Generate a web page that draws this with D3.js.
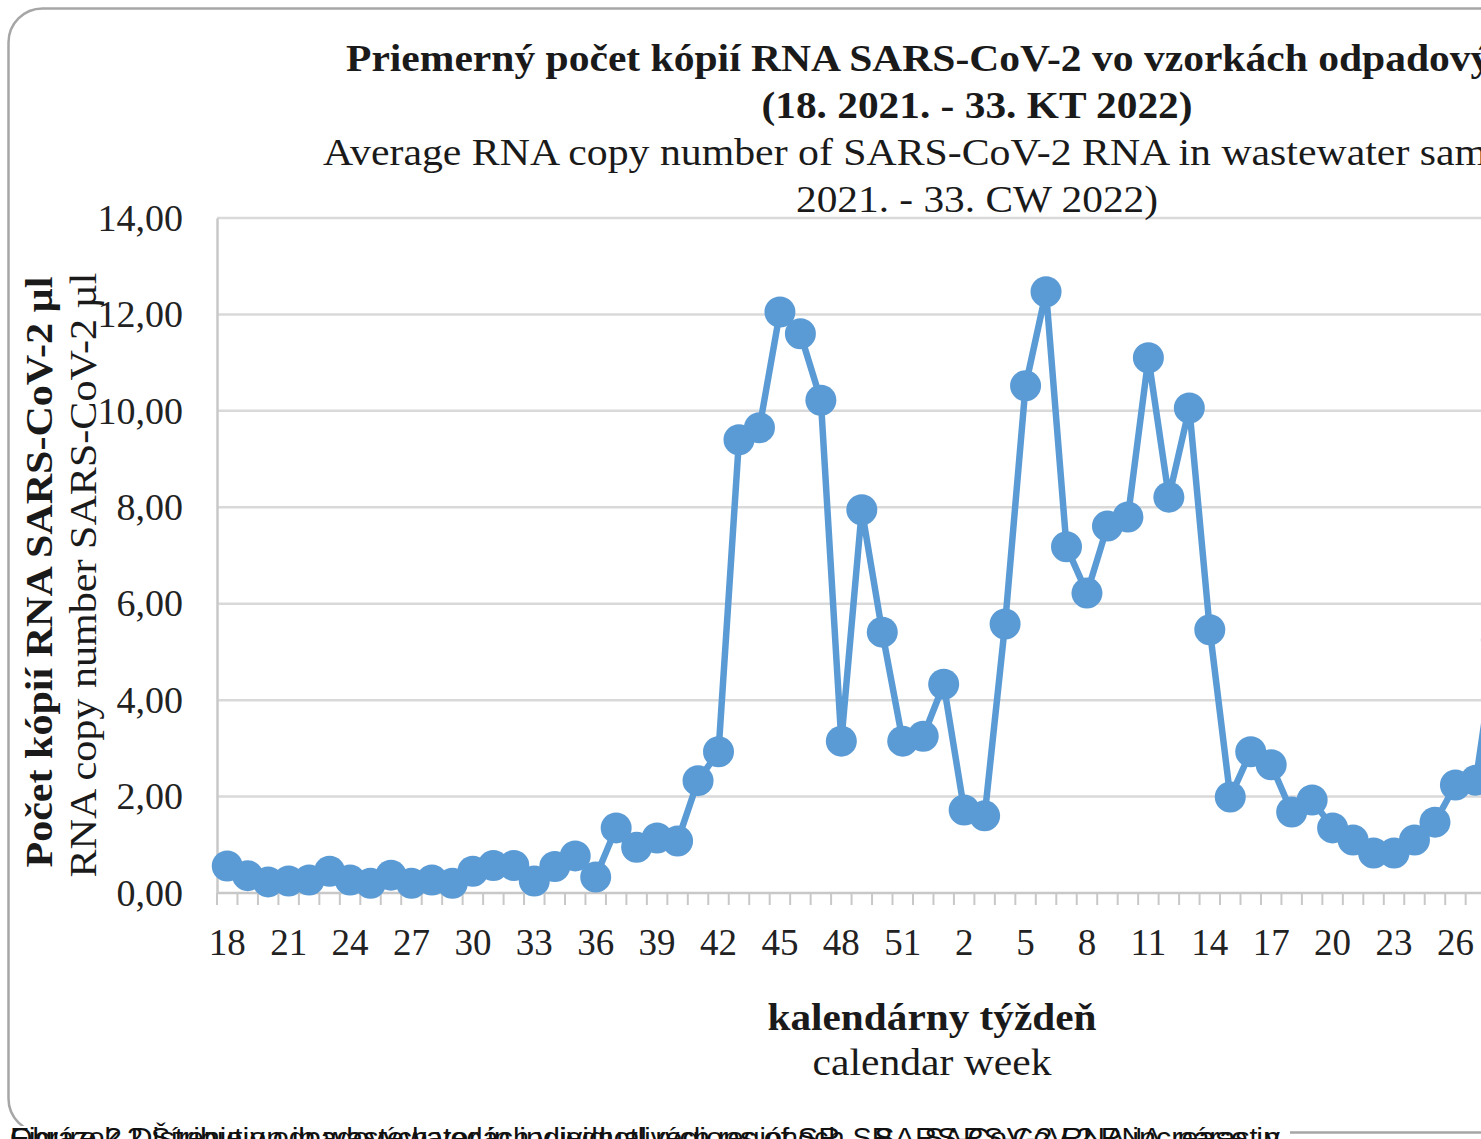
<!DOCTYPE html>
<html>
<head>
<meta charset="utf-8">
<script src="https://cdn.jsdelivr.net/npm/d3@7/dist/d3.min.js"></script>
<style>
  html, body { margin: 0; padding: 0; background: #fff; overflow: hidden; }
  svg { display: block; }
</style>
</head>
<body>
<svg id="chart" width="1481" height="1139"></svg>
<script>
// ---- data ----
const weeks2021 = [18,19,20,21,22,23,24,25,26,27,28,29,30,31,32,33,34,35,36,37,38,39,40,41,42,43,44,45,46,47,48,49,50,51,52];
const weeks2022 = [1,2,3,4,5,6,7,8,9,10,11,12,13,14,15,16,17,18,19,20,21,22,23,24,25,26,27,28,29,30,31,32,33];
const values2021 = [0.56,0.36,0.23,0.25,0.27,0.45,0.27,0.20,0.37,0.20,0.27,0.20,0.45,0.57,0.57,0.25,0.55,0.77,0.33,1.35,0.95,1.14,1.08,2.33,2.93,9.40,9.65,12.05,11.60,10.22,3.15,7.95,5.41,3.15,3.25];
const values2022 = [4.33,1.72,1.60,5.58,10.52,12.47,7.18,6.22,7.61,7.80,11.10,8.21,10.06,5.46,1.99,2.93,2.66,1.68,1.93,1.35,1.10,0.83,0.83,1.10,1.47,2.24,2.34,5.25];
const yTicks = [0,2,4,6,8,10,12,14];

const titleLines = [
  "Priemerný počet kópií RNA SARS-CoV-2 vo vzorkách odpadových vôd",
  "(18. 2021. - 33. KT 2022)",
  "Average RNA copy number of SARS-CoV-2 RNA in wastewater samples (18.",
  "2021. - 33. CW 2022)"
];
const yTitle1 = "Počet kópií RNA SARS-CoV-2 µl";
const yTitle2 = "RNA copy number SARS-CoV-2 µl";
const xTitle1 = "kalendárny týždeň";
const xTitle2 = "calendar week";
const captionSk = "Obrázok 2 Šírenie v odpadových vodách v jednotlivých regiónoch SR – SARS-CoV-2 RNA, nárast v";
const captionEn = "Figure 2 Distribution in wastewater in individual regions of SR – SARS-CoV-2 RNA increase in";

const weeks = weeks2021.concat(weeks2022);
const values = values2021.concat(values2022);
const idx = weeks.map((d, i) => i);

// ---- layout ----
const svg = d3.select("#chart");
const serif = "'Liberation Serif', 'Times New Roman', serif";
const plotLeft = 217, plotTop = 218, plotBottom = 893;
const step = 20.47;

// chart border
svg.append("rect")
  .attr("x", 8.5).attr("y", 8.5)
  .attr("width", 2100).attr("height", 1124)
  .attr("rx", 34).attr("ry", 34)
  .attr("fill", "#fff").attr("stroke", "#a6a6a6").attr("stroke-width", 2.5);

const x = d3.scaleBand().domain(idx).range([plotLeft, plotLeft + step * weeks.length]).paddingInner(0).paddingOuter(0);
const y = d3.scaleLinear().domain([0, 14]).range([plotBottom, plotTop]);

const locale = d3.formatLocale({decimal: ",", thousands: " ", grouping: [3], currency: ["", ""]});
const fmt = locale.format(".2f");

// gridlines
svg.append("g")
  .selectAll("line").data(yTicks.filter(d => d > 0)).join("line")
  .attr("x1", plotLeft).attr("x2", plotLeft + step * weeks.length)
  .attr("y1", d => y(d)).attr("y2", d => y(d))
  .attr("stroke", "#d9d9d9").attr("stroke-width", 2.5);

// y axis
const yAxis = svg.append("g")
  .attr("transform", `translate(${plotLeft},0)`)
  .call(d3.axisLeft(y).tickValues(yTicks).tickFormat(fmt).tickSize(0).tickPadding(34));
yAxis.select(".domain").attr("stroke", "#c8c8c8").attr("stroke-width", 2.5);
yAxis.selectAll("text")
  .attr("font-family", serif).attr("font-size", 38).attr("fill", "#222");

// x axis
const xAxis = svg.append("g")
  .attr("transform", `translate(0,${plotBottom})`)
  .call(d3.axisBottom(x).tickValues(idx.filter(i => i % 3 === 0)).tickFormat(i => weeks[i]).tickSize(0).tickPadding(36));
xAxis.select(".domain").remove();
xAxis.selectAll("text")
  .attr("font-family", serif).attr("font-size", 37).attr("fill", "#222");

// x baseline and tick marks between categories
svg.append("line")
  .attr("x1", plotLeft).attr("x2", plotLeft + step * weeks.length)
  .attr("y1", plotBottom).attr("y2", plotBottom)
  .attr("stroke", "#c8c8c8").attr("stroke-width", 2.5);
svg.append("g").selectAll("line").data(idx.concat([weeks.length])).join("line")
  .attr("x1", i => plotLeft + i * x.step()).attr("x2", i => plotLeft + i * x.step())
  .attr("y1", plotBottom).attr("y2", plotBottom + 12)
  .attr("stroke", "#c8c8c8").attr("stroke-width", 2);

// series
const pts = values.map((v, i) => ({i, v}));
const line = d3.line().x(d => x(d.i) + x.bandwidth() / 2).y(d => y(d.v));
svg.append("path").datum(pts)
  .attr("d", line).attr("fill", "none")
  .attr("stroke", "#5b9bd5").attr("stroke-width", 6.5).attr("stroke-linejoin", "round");
svg.append("g").selectAll("circle").data(pts).join("circle")
  .attr("cx", d => x(d.i) + x.bandwidth() / 2).attr("cy", d => y(d.v))
  .attr("r", 15.5).attr("fill", "#5b9bd5");

// title
const tl = [
  {t: titleLines[0], y: 71, w: 1262, bold: true},
  {t: titleLines[1], y: 118, w: 431, bold: true},
  {t: titleLines[2], y: 165, w: 1308, bold: false},
  {t: titleLines[3], y: 212, w: 362, bold: false}
];
svg.append("g").selectAll("text").data(tl).join("text")
  .attr("x", 977).attr("y", d => d.y)
  .attr("text-anchor", "middle")
  .attr("font-family", serif).attr("font-size", 37)
  .attr("font-weight", d => d.bold ? "bold" : "normal")
  .attr("fill", "#1a1a1a")
  .attr("textLength", d => d.w).attr("lengthAdjust", "spacingAndGlyphs")
  .text(d => d.t);

// y title
svg.append("text")
  .attr("transform", "translate(52,572) rotate(-90)")
  .attr("text-anchor", "middle").attr("font-family", serif).attr("font-size", 37)
  .attr("font-weight", "bold").attr("fill", "#1a1a1a")
  .attr("textLength", 591).attr("lengthAdjust", "spacingAndGlyphs")
  .text(yTitle1);
svg.append("text")
  .attr("transform", "translate(96,575) rotate(-90)")
  .attr("text-anchor", "middle").attr("font-family", serif).attr("font-size", 37)
  .attr("fill", "#1a1a1a")
  .attr("textLength", 605).attr("lengthAdjust", "spacingAndGlyphs")
  .text(yTitle2);

// x title
svg.append("text")
  .attr("x", 932).attr("y", 1030).attr("text-anchor", "middle")
  .attr("font-family", serif).attr("font-size", 37).attr("font-weight", "bold").attr("fill", "#1a1a1a")
  .attr("textLength", 329).attr("lengthAdjust", "spacingAndGlyphs")
  .text(xTitle1);
svg.append("text")
  .attr("x", 932).attr("y", 1075).attr("text-anchor", "middle")
  .attr("font-family", serif).attr("font-size", 37).attr("fill", "#1a1a1a")
  .attr("textLength", 239).attr("lengthAdjust", "spacingAndGlyphs")
  .text(xTitle2);

// caption strip (overlapping, cut off at the bottom)
svg.append("rect").attr("x", 0).attr("y", 1126).attr("width", 1290).attr("height", 14).attr("fill", "#fff");
[captionSk, captionEn].forEach(t => {
  svg.append("text")
    .attr("x", 10).attr("y", 1147)
    .attr("font-family", "'Liberation Sans', Arial, sans-serif").attr("font-size", 27)
    .attr("fill", "#111")
    .attr("textLength", 1270).attr("lengthAdjust", "spacingAndGlyphs")
    .text(t);
});
</script>
</body>
</html>
